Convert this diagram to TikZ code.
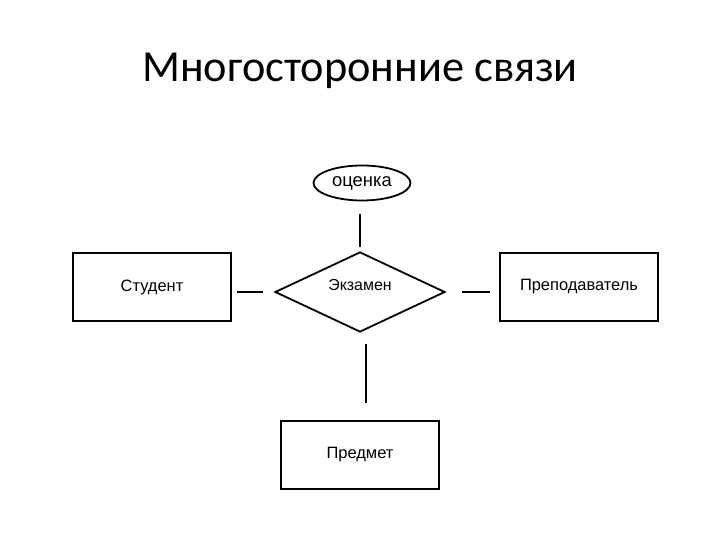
\documentclass[tikz,border=0pt]{standalone}
\usepackage{fontspec}
\setmainfont{Carlito}
\newfontfamily\labelfont{Liberation Sans}
\usetikzlibrary{shapes.geometric,calc}

\begin{document}
\begin{tikzpicture}[x=1bp,y=-1bp,
  entity/.style={draw, line width=1.8bp, minimum width=158bp, minimum height=68bp, inner sep=0pt, font=\labelfont\fontsize{16.5}{19}\selectfont},
  attrib/.style={draw, ellipse, line width=1.8bp, minimum width=97bp, minimum height=35bp, inner sep=0pt, font=\labelfont\fontsize{18.5}{21}\selectfont},
  relship/.style={draw, diamond, aspect=2, line width=1.8bp, minimum width=170bp, minimum height=80bp, inner sep=0pt, font=\labelfont\fontsize{16}{19}\selectfont},
  link/.style={line width=1.6bp}]
\useasboundingbox (0,0) rectangle (720,540);
\node (title) at (360,71) {\fontsize{44.5}{52}\selectfont Многосторонние связи};
\node[attrib] (ocenka) at (362,183) {оценка};
\node[relship] (exam) at (360,292) {\raisebox{14bp}{Экзамен}};
\node[entity] (stud) at (152,287) {Студент};
\node[entity] (prep) at (579,287) {Преподаватель};
\node[entity] (pred) at (360,455) {Предмет};
\draw[link, shorten <=13bp, shorten >=4bp] (ocenka.south -| exam.north) -- (exam.north);
\draw[link, shorten <=5bp, shorten >=11bp] (stud.east |- exam.west) -- (exam.west);
\draw[link, shorten <=16bp, shorten >=9bp] (exam.east) -- (prep.west |- exam.east);
\draw[link, shorten <=11bp, shorten >=17bp] ([xshift=6bp]exam.south) -- ([xshift=6bp]pred.north);
\end{tikzpicture}
\end{document}
